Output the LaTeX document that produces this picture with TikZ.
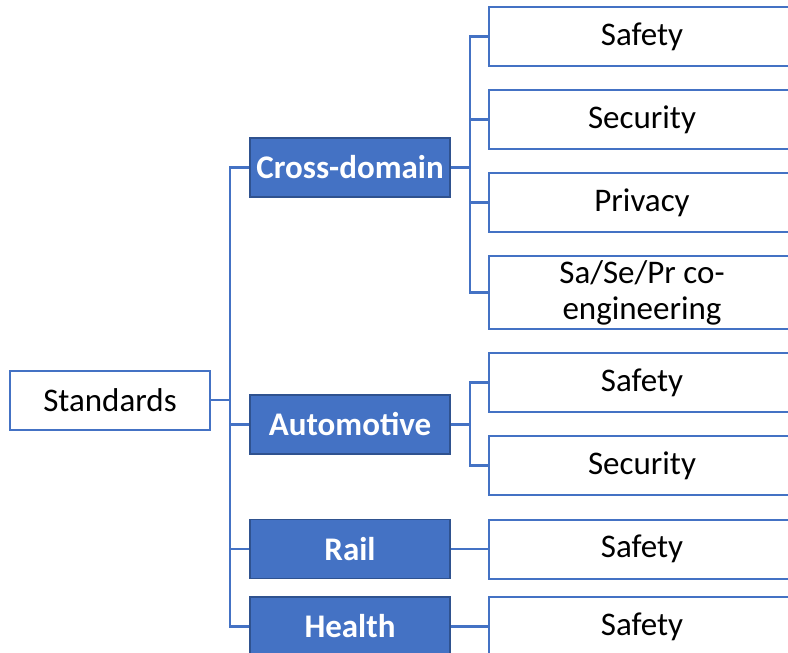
\documentclass[tikz,border=0pt]{standalone}
\usepackage{fontspec}
\setmainfont{Carlito}
\definecolor{cblue}{HTML}{4472C4}
\definecolor{cdark}{HTML}{2F528F}
\begin{document}
\begin{tikzpicture}[x=1pt,y=-1pt,
  wbox/.style={draw=cblue,line width=2pt,fill=white,minimum height=59pt,inner sep=0pt,font=\fontsize{33}{36}\selectfont,text=black},
  leaf/.style={wbox,minimum width=306pt},
  cat/.style={draw=cdark,line width=1.6pt,fill=cblue,minimum width=200pt,minimum height=59pt,inner sep=0pt,font=\fontsize{33}{36}\selectfont\bfseries,text=white},
  conn/.style={draw=cblue,line width=2.4pt}]
\useasboundingbox (0,0) rectangle (788,653);
\clip (0,0) rectangle (788,653);
\coordinate (j0) at (230,0);
\coordinate (j1) at (470,0);
\node[wbox,minimum width=200pt] (std) at (110,400) {Standards};
\node[cat] (cd) at (350,167.5) {Cross-domain};
\node[cat] (auto) at (350,424.5) {Automotive};
\node[cat] (rail) at (350,549) {Rail};
\node[cat] (health) at (350,626.5) {Health};
\node[leaf] (s1) at (642,36.5) {Safety};
\node[leaf] (s2) at (642,119.5) {Security};
\node[leaf] (s3) at (642,202.5) {Privacy};
\node[leaf,minimum height=73pt,align=center] (s4) at (642,292.5) {Sa/Se/Pr co-\\engineering};
\node[leaf] (a1) at (642,382.5) {Safety};
\node[leaf] (a2) at (642,465.5) {Security};
\node[leaf] (r1) at (642,549) {Safety};
\node[leaf] (h1) at (642,626.5) {Safety};
% trunk
\draw[conn] (std.east) -- (std.east -| j0);
\draw[conn] (cd.west) -- (cd.west -| j0) -- (health.west -| j0) -- (health.west);
\draw[conn] (auto.west) -- (auto.west -| j0);
\draw[conn] (rail.west) -- (rail.west -| j0);
% cross-domain
\draw[conn] (cd.east) -- (cd.east -| j1);
\draw[conn] (s1.west) -- (s1.west -| j1) -- (s4.west -| j1) -- (s4.west);
\draw[conn] (s2.west) -- (s2.west -| j1);
\draw[conn] (s3.west) -- (s3.west -| j1);
% automotive
\draw[conn] (auto.east) -- (auto.east -| j1);
\draw[conn] (a1.west) -- (a1.west -| j1) -- (a2.west -| j1) -- (a2.west);
% rail, health
\draw[conn] (rail.east) -- (r1.west);
\draw[conn] (health.east) -- (h1.west);
\end{tikzpicture}
\end{document}
